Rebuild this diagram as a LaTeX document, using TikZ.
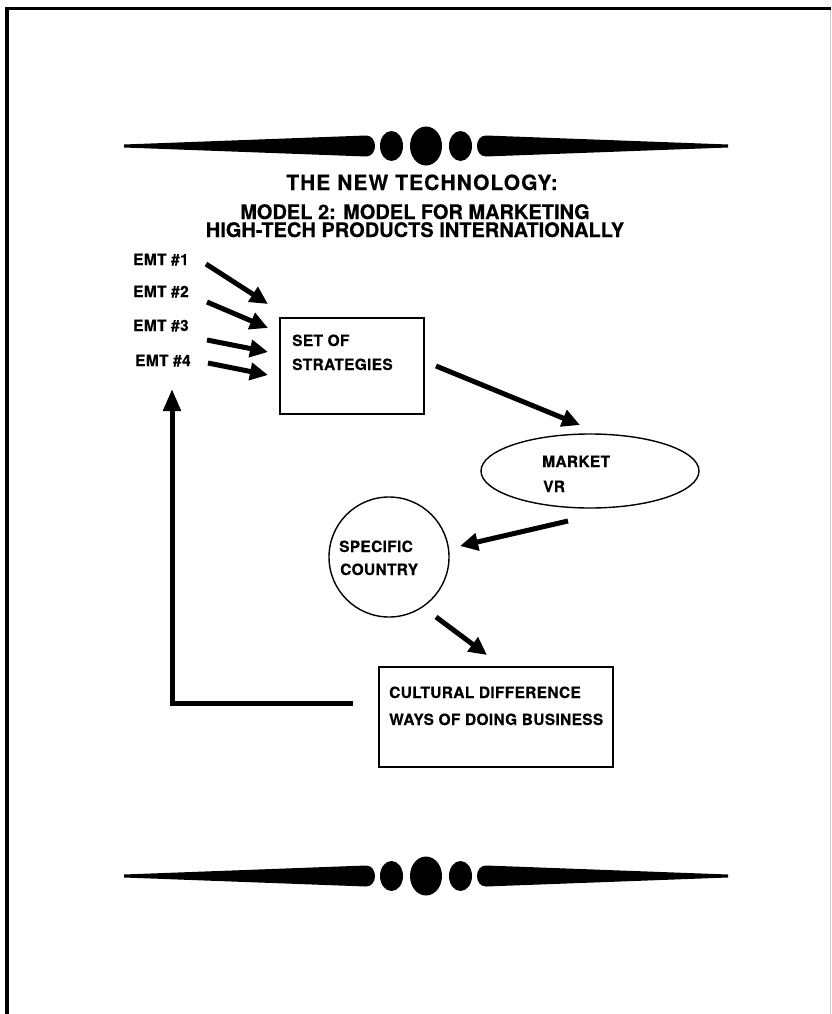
\documentclass[tikz,border=0pt]{standalone}
\usepackage{fontspec}
\usetikzlibrary{arrows.meta,shapes.geometric}
\newfontfamily\hv[LetterSpace=2, BoldFeatures={FakeBold=0.4}]{TeX Gyre Heros}
\newfontfamily\hvt[LetterSpace=5, BoldFeatures={FakeBold=0.3}]{TeX Gyre Heros}
\newfontfamily\hvs[BoldFeatures={FakeBold=0.3}]{TeX Gyre Heros}
\begin{document}
\begin{tikzpicture}[x=1pt,y=-1pt,
  arr/.style={line width=5pt, -{Triangle[length=18pt,width=17pt]}},
  lbl/.style={font=\hv\bfseries\fontsize{15.5}{15.5}\selectfont, inner sep=0pt, anchor=base west},
  ttl/.style={font=\hvs\bfseries\fontsize{20}{20}\selectfont, inner sep=0pt, anchor=base},
  boxst/.style={draw, line width=1.6pt, inner sep=0pt},
  orn/.pic={
    \fill (-302,-1.5) -- (-60,-10.5) .. controls (-48,-10.5) and (-48,10.5) .. (-60,10.5) -- (-302,1.5) -- cycle;
    \fill (302,-1.5) -- (60,-10.5) .. controls (48,-10.5) and (48,10.5) .. (60,10.5) -- (302,1.5) -- cycle;
    \fill (-34.5,0) ellipse [x radius=11.5, y radius=15];
    \fill (0,0) ellipse [x radius=16, y radius=19.5];
    \fill (34.5,0) ellipse [x radius=11.5, y radius=15];
  }]
\useasboundingbox (0,0) rectangle (831,1014);
% frame
\draw[line width=3pt] (5,8.5) -- (831,8.5);
\draw[line width=3.5pt] (7,7) -- (7,1014);
\draw[gray!40, line width=1pt] (830,10) -- (830,1014);
% ornaments
\pic at (426,146) {orn};
\pic at (426,876) {orn};
% titles
\node[ttl, font=\hvt\bfseries\fontsize{21}{21}\selectfont] (t1) at (422,190) {THE NEW TECHNOLOGY:};
\node[ttl] (t2) at (415,219) {MODEL 2: MODEL FOR MARKETING};
\node[ttl] (t3) at (415,237) {HIGH-TECH PRODUCTS INTERNATIONALLY};
% EMT labels
\node[lbl] (e1) at (133,265) {EMT \#1};
\node[lbl] (e2) at (133,297) {EMT \#2};
\node[lbl] (e3) at (133,331) {EMT \#3};
\node[lbl] (e4) at (135,366) {EMT \#4};
% set of strategies box
\node[boxst, anchor=north west, minimum width=144pt, minimum height=96pt] (sos) at (279,317) {};
\node[lbl] (sos1) at (292,346) {SET OF};
\node[lbl] (sos2) at (292,370) {STRATEGIES};
% market ellipse
\node[draw, ellipse, line width=1.4pt, minimum width=218pt, minimum height=74pt, inner sep=0pt] (mkt) at (590,471) {};
\node[lbl] (mkt1) at (542,467) {MARKET};
\node[lbl] (mkt2) at (543,492) {VR};
% country circle
\node[draw, circle, line width=1.4pt, minimum size=120pt, inner sep=0pt] (ctry) at (389,557) {};
\node[lbl] (ct1) at (339,552) {SPECIFIC};
\node[lbl] (ct2) at (340,575) {COUNTRY};
% cultural box
\node[boxst, anchor=north west, minimum width=234pt, minimum height=100pt] (cult) at (378,666) {};
\node[lbl] (cu1) at (389,698) {CULTURAL DIFFERENCE};
\node[lbl] (cu2) at (389,725) {WAYS OF DOING BUSINESS};
% arrows EMT -> box
\coordinate (s1) at (206,264);
\coordinate (s2) at (207,302);
\coordinate (s3) at (207,340);
\coordinate (s4) at (208,363);
\coordinate (a1) at (268,304);
\coordinate (a2) at (268,328);
\coordinate (a3) at (268,352);
\coordinate (a4) at (268,375);
\draw[arr] (s1) -- (a1);
\draw[arr] (s2) -- (a2);
\draw[arr] (s3) -- (a3);
\draw[arr] (s4) -- (a4);
% chain arrows
\coordinate (m1) at (436,366);
\coordinate (m2) at (580,425);
\draw[arr] (m1) -- (m2);
\coordinate (c1) at (568,521);
\coordinate (c2) at (460,546);
\draw[arr] (c1) -- (c2);
\coordinate (d1) at (436,617);
\coordinate (d2) at (487,655);
\draw[arr] (d1) -- (d2);
% feedback
\coordinate (fb0) at (353,703);
\coordinate (fbc) at (172,703);
\coordinate (fbt) at (172,389);
\draw[line width=5pt, -{Triangle[length=22pt,width=17pt]}] (fb0) -- (fbc) -- (fbt);
\end{tikzpicture}
\end{document}
